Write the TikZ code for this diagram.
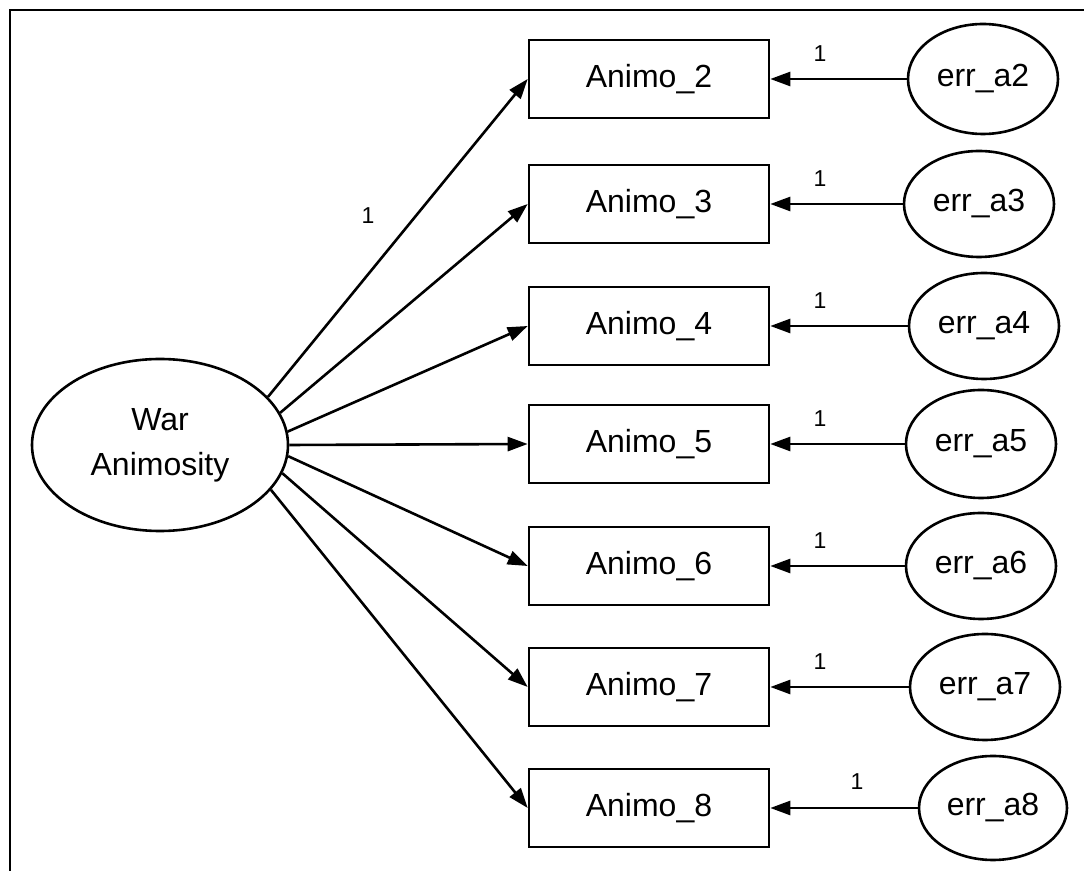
\documentclass[tikz,border=0pt]{standalone}
\usepackage{fontspec}
\setmainfont{Liberation Sans}
\usetikzlibrary{arrows.meta,shapes.geometric}

\tikzset{
  obsbox/.style={draw, line width=1.3pt, minimum width=120pt, minimum height=39pt,
                 inner sep=0pt, font=\fontsize{16}{19}\selectfont},
  latent/.style={draw, ellipse, line width=1.3pt, minimum width=128pt, minimum height=86pt,
                 inner sep=0pt, align=center, font=\fontsize{16}{22.5}\selectfont},
  errnode/.style={draw, ellipse, line width=1.3pt, minimum width=75pt, minimum height=54pt,
                  inner sep=0pt, font=\fontsize{16}{19}\selectfont},
  path/.style={line width=1.3pt, -{Triangle[length=10pt,width=7pt]}},
  weight/.style={font=\fontsize{11.5}{13}\selectfont},
}

\begin{document}
\begin{tikzpicture}[x=0.5pt,y=-0.5pt]
  \useasboundingbox (0,0) rectangle (1084,871);

  % frame: only its top and left edges fall inside the page
  \begin{scope}
    \clip (0,0) rectangle (1084,871);
    \draw[line width=1.3pt] (10,900) -- (10,10) -- (1100,10);
  \end{scope}

  % latent factor
  \node[latent] (F) at (160,445) {War\\Animosity};

  % indicators
  \node[obsbox] (A2) at (649,79)  {Animo\_2};
  \node[obsbox] (A3) at (649,204) {Animo\_3};
  \node[obsbox] (A4) at (649,326) {Animo\_4};
  \node[obsbox] (A5) at (649,444) {Animo\_5};
  \node[obsbox] (A6) at (649,566) {Animo\_6};
  \node[obsbox] (A7) at (649,687) {Animo\_7};
  \node[obsbox] (A8) at (649,808) {Animo\_8};

  % error terms
  \node[errnode, minimum height=55pt] (E2) at (983,79)  {err\_a2};
  \node[errnode, minimum height=53pt] (E3) at (979,204) {err\_a3};
  \node[errnode, minimum height=53pt] (E4) at (984,326) {err\_a4};
  \node[errnode] (E5) at (981,444) {err\_a5};
  \node[errnode, minimum height=53pt] (E6) at (981,566) {err\_a6};
  \node[errnode, minimum height=53pt] (E7) at (985,687) {err\_a7};
  \node[errnode, minimum width=74pt, minimum height=52pt] (E8) at (993,808) {err\_a8};

  % factor loadings
  \draw[path] (F.24)   -- (A2.west);
  \draw[path] (F.15.4) -- (A3.west);
  \draw[path] (F.6.7)  -- (A4.west);
  \draw[path] (F.0)    -- (A5.west);
  \draw[path] (F.-5.4) -- (A6.west);
  \draw[path] (F.-13.8)-- (A7.west);
  \draw[path] (F.-22.9)-- (A8.west);
  \node[weight] (w2) at (368,216) {1};

  % error paths
  \draw[path] (E2.west) -- (A2.east);
  \draw[path] (E3.west) -- (A3.east);
  \draw[path] (E4.west) -- (A4.east);
  \draw[path] (E5.west) -- (A5.east);
  \draw[path] (E6.west) -- (A6.east);
  \draw[path] (E7.west) -- (A7.east);
  \draw[path] (E8.west) -- (A8.east);
  \node[weight] (e2) at (820,54)  {1};
  \node[weight] (e3) at (820,179) {1};
  \node[weight] (e4) at (820,301) {1};
  \node[weight] (e5) at (820,419) {1};
  \node[weight] (e6) at (820,541) {1};
  \node[weight] (e7) at (820,662) {1};
  \node[weight] (e8) at (857,782) {1};
\end{tikzpicture}
\end{document}
